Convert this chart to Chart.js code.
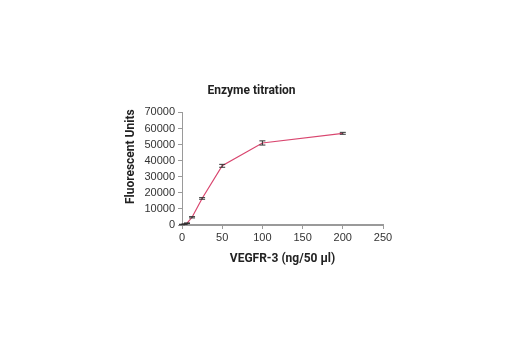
<!DOCTYPE html>
<html>
<head>
<meta charset="utf-8">
<script src="https://cdn.jsdelivr.net/npm/chart.js@4.4.1/dist/chart.umd.min.js"></script>
<style>
  html, body { margin: 0; padding: 0; background: #fff; }
  #wrap { width: 520px; height: 350px; }
</style>
</head>
<body>
<div id="wrap"><canvas id="chart" width="520" height="350"></canvas></div>
<script>
// Data
const doses = [0, 3.125, 6.25, 12.5, 25, 50, 100, 200];          // VEGFR-3 ng/50 µl
const signal = [300, 500, 1100, 4800, 16500, 36800, 51000, 57000]; // fluorescent units
const errors = [150, 150, 200, 400, 500, 900, 1300, 600];
const xTicks = [0, 50, 100, 150, 200, 250];
const yTicks = [0, 10000, 20000, 30000, 40000, 50000, 60000, 70000];

const lineColor = "#d9466f";
const axisColor = "#9a9a9a";
const textFont = "'Liberation Sans', Arial, sans-serif";
const titleFont = "Roboto, 'Liberation Sans', sans-serif";

// error bars drawn through the chart scales
const errorBars = {
  id: "errorBars",
  afterDatasetsDraw(chart) {
    const { ctx, scales: { x, y } } = chart;
    ctx.save();
    ctx.strokeStyle = "#333";
    ctx.lineWidth = 1;
    doses.forEach((d, i) => {
      const px = x.getPixelForValue(d);
      const top = y.getPixelForValue(signal[i] + errors[i]);
      const bot = y.getPixelForValue(signal[i] - errors[i]);
      ctx.beginPath();
      ctx.moveTo(px, top); ctx.lineTo(px, bot);
      ctx.moveTo(px - 3, top); ctx.lineTo(px + 3, top);
      ctx.moveTo(px - 3, bot); ctx.lineTo(px + 3, bot);
      ctx.stroke();
    });
    ctx.restore();
  }
};

// y axis title, set a bit above the middle as in the reference
const yTitle = {
  id: "yTitle",
  afterDraw(chart) {
    const { ctx, chartArea } = chart;
    ctx.save();
    ctx.translate(chartArea.left - 51, (chartArea.top + chartArea.bottom) / 2 - 12);
    ctx.rotate(-Math.PI / 2);
    ctx.font = "bold 12px " + titleFont;
    ctx.fillStyle = "#222";
    ctx.textAlign = "center";
    ctx.textBaseline = "middle";
    ctx.fillText("Fluorescent Units", 0, 0);
    ctx.restore();
  }
};

new Chart(document.getElementById("chart"), {
  type: "line",
  data: {
    datasets: [{
      data: doses.map((d, i) => ({ x: d, y: signal[i] })),
      borderColor: lineColor,
      borderWidth: 1.2,
      pointRadius: 0,
      tension: 0,
      fill: false
    }]
  },
  options: {
    responsive: false,
    animation: false,
    layout: { padding: { top: 84, left: 120, right: 137, bottom: 80 } },
    plugins: {
      legend: { display: false },
      tooltip: { enabled: false },
      title: {
        display: true,
        text: "Enzyme titration",
        color: "#222",
        font: { family: titleFont, size: 12, weight: "bold" },
        padding: { top: 0, bottom: 14 }
      }
    },
    scales: {
      x: {
        type: "linear",
        min: 0,
        max: 250,
        afterBuildTicks: s => { s.ticks = xTicks.map(v => ({ value: v })); },
        afterFit: s => { s.height = 45; },
        ticks: { color: "#333", font: { family: textFont, size: 11 }, padding: 2, maxRotation: 0, autoSkip: false },
        grid: { drawOnChartArea: false, color: axisColor, tickLength: 4 },
        border: { color: axisColor, width: 2 },
        title: {
          display: true,
          text: "VEGFR-3 (ng/50 µl)",
          color: "#222",
          font: { family: titleFont, size: 12, weight: "bold" },
          padding: { top: 9 }
        }
      },
      y: {
        min: 0,
        max: 70000,
        afterBuildTicks: s => { s.ticks = yTicks.map(v => ({ value: v })); },
        afterFit: s => { s.width = 62; },
        ticks: {
          color: "#333",
          font: { family: textFont, size: 11 },
          padding: 3,
          autoSkip: false,
          callback: v => String(v)
        },
        grid: { drawOnChartArea: false, color: axisColor, tickLength: 4 },
        border: { color: axisColor, width: 1 }
      }
    }
  },
  plugins: [errorBars, yTitle]
});
</script>
</body>
</html>
